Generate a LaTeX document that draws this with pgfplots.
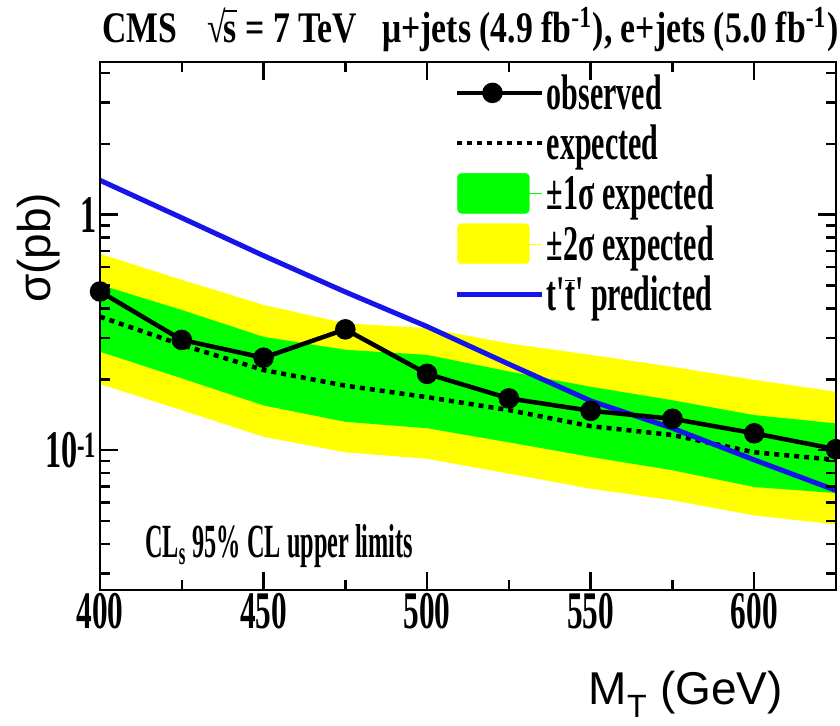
\documentclass[border=0pt]{standalone}
\usepackage{fontspec}
\setmainfont{Liberation Serif}
\setsansfont{Liberation Sans}
\usepackage{graphicx}
\usepackage{pgfplots}
\pgfplotsset{compat=1.18}
\definecolor{bandgreen}{RGB}{0,255,0}
\definecolor{bandyellow}{RGB}{255,255,0}
\definecolor{predblue}{RGB}{20,20,235}
% condensed bold serif text: size, x-scale, y-scale, text
\newcommand{\bt}[4]{\scalebox{#2}[#3]{\fontsize{#1}{#1}\selectfont\bfseries #4}}
\newcommand{\rts}{\smash{{\mdseries √}\kern-0.06em\rlap{\rule[0.70em]{0.40em}{0.045em}}s}}
\pgfplotsset{
  lineleg/.style={legend image code/.code={%
    \path (0pt,0pt) -- (85pt,0pt);
    \draw[mark repeat=2,mark phase=2,##1] plot coordinates {(0pt,0pt) (35pt,0pt) (70pt,0pt)};}},
  boxleg/.style={legend image code/.code={%
    \path (0pt,0pt) -- (85pt,0pt);
    \fill[##1,rounded corners=4pt] (0pt,-20pt) rectangle (72pt,20pt);}},
}

\begin{document}
\begin{tikzpicture}
\useasboundingbox (-100pt,-135pt) rectangle (740pt,590pt);
\begin{axis}[
  scale only axis, width=736pt, height=528pt,
  ymode=log,
  xmin=400, xmax=625, ymin=0.0255, ymax=4.45,
  xtick={400,450,500,550,600},
  minor xtick={425,475,525,575,625},
  xticklabels={\bt{46}{0.68}{1.15}{400},\bt{46}{0.68}{1.15}{450},\bt{46}{0.68}{1.15}{500},\bt{46}{0.68}{1.15}{550},\bt{46}{0.68}{1.15}{600}},
  ytick={0.1,1},
  yticklabels={\bt{46}{0.7}{1.15}{10\textsuperscript{-1}},\bt{46}{0.7}{1.15}{1}},
  minor ytick={0.03,0.04,0.05,0.06,0.07,0.08,0.09,0.2,0.3,0.4,0.5,0.6,0.7,0.8,0.9,2,3,4},
  tick align=inside,
  major tick length=18pt, minor tick length=10pt,
  axis line style={line width=2.5pt},
  every tick/.style={black, line width=2.5pt},
  axis on top,
  xlabel={\fontsize{46}{46}\selectfont\sffamily M\textsubscript{T} (GeV)},
  xlabel style={at={(axis description cs:0.928,-0.216)}, anchor=base east, inner sep=0pt},
  ylabel={\fontsize{46}{46}\selectfont\sffamily σ(pb)},
  ylabel style={at={(axis description cs:-0.084,0.648)}, anchor=center, inner sep=0pt},
  legend style={at={(axis description cs:0.482,0.980)}, anchor=north west,
    draw=none, fill=none, row sep=10pt, inner sep=0pt},
  legend cell align=left,
]
\addlegendimage{lineleg, black, line width=4.5pt, mark=*, mark size=8pt}
\addlegendimage{lineleg, black, line width=4.5pt, dash pattern=on 5pt off 5pt}
\addlegendimage{boxleg, bandgreen}
\addlegendimage{boxleg, bandyellow}
\addlegendimage{lineleg, predblue, line width=5pt}
\legend{\bt{40}{0.75}{1.25}{observed},\bt{40}{0.75}{1.25}{expected},\bt{40}{0.75}{1.25}{±1σ expected},\bt{40}{0.75}{1.25}{±2σ expected},\bt{40}{0.75}{1.25}{t\textquotesingle$\overline{\mbox{t}}$\textquotesingle\ predicted}}

% +-2 sigma band
\addplot[fill=bandyellow, draw=none, forget plot] coordinates {
  (400,0.682) (425,0.529) (450,0.414) (475,0.346) (500,0.330) (525,0.284) (550,0.254) (575,0.226) (600,0.199) (625,0.177)
  (625,0.0484) (600,0.0529) (575,0.0613) (550,0.0687) (525,0.0796) (500,0.092) (475,0.098) (450,0.114) (425,0.148) (400,0.191)
} -- cycle;
% +-1 sigma band
\addplot[fill=bandgreen, draw=none, forget plot] coordinates {
  (400,0.504) (425,0.394) (450,0.303) (475,0.267) (500,0.254) (525,0.216) (550,0.186) (575,0.163) (600,0.141) (625,0.130)
  (625,0.0658) (600,0.0698) (575,0.0822) (550,0.0937) (525,0.108) (500,0.124) (475,0.132) (450,0.155) (425,0.202) (400,0.262)
} -- cycle;
% expected
\addplot[black, line width=4.5pt, dash pattern=on 5pt off 5pt, forget plot] coordinates {
  (400,0.369) (425,0.280) (450,0.219) (475,0.188) (500,0.168) (525,0.148) (550,0.1265) (575,0.116) (600,0.098) (625,0.091)
};
% predicted
\addplot[predblue, line width=5pt, forget plot] coordinates {
  (400,1.40) (425,0.97) (450,0.67) (475,0.47) (500,0.335) (525,0.232) (550,0.162) (575,0.124) (600,0.091) (625,0.0675)
};
% observed
\addplot[black, line width=4.5pt, mark=*, mark size=8pt, forget plot] coordinates {
  (400,0.472) (425,0.294) (450,0.247) (475,0.326) (500,0.211) (525,0.166) (550,0.147) (575,0.136) (600,0.118) (625,0.101)
};

\node[anchor=base west, inner sep=0pt] at (axis description cs:0.061,0.061)
  {\resizebox{268pt}{33pt}{\bfseries CL\textsubscript{s} 95\% CL upper limits}};
\end{axis}
\node[anchor=base west, inner sep=0pt] at (2pt,547pt)
  {\resizebox{736pt}{36pt}{\bfseries CMS\hspace{0.9em}\rts\ = 7 TeV\hspace{0.5em} μ+jets (4.9 fb\textsuperscript{-1}), e+jets (5.0 fb\textsuperscript{-1})}};
\end{tikzpicture}
\end{document}
